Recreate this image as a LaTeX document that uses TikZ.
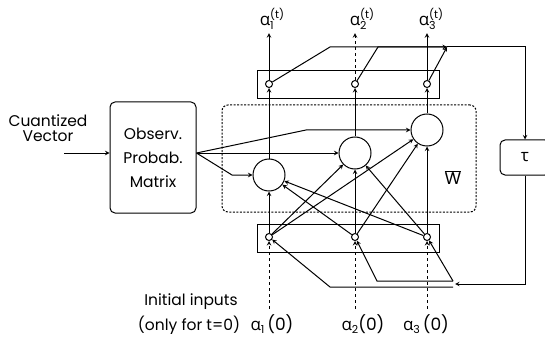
\documentclass[tikz,border=0pt]{standalone}
\usepackage{fontspec}
\setmainfont{Poppins}
\newfontfamily\grk{Open Sans}
\usetikzlibrary{positioning}

\newcommand{\scr}{\fontsize{11}{12}\selectfont}
% alpha with stacked index and time
\newcommand{\aout}[1]{{\grk α}\makebox[0pt][l]{\raisebox{-4pt}{\scr #1}}\raisebox{7pt}{\scr (t)}}
\newcommand{\ain}[1]{{\grk α}\raisebox{-3pt}{\scr #1}}

\tikzset{
  unit/.style={circle,draw,minimum size=7pt,inner sep=0pt},
  neuron/.style={circle,draw,minimum size=32pt,inner sep=0pt},
  layerbox/.style={draw,minimum width=182pt,minimum height=28pt},
  lbl/.style={inner sep=1pt,font=\fontsize{15.5}{18}\selectfont},
  albl/.style={inner sep=1pt,font=\fontsize{17}{19}\selectfont},
}

\begin{document}
\begin{tikzpicture}[x=1pt,y=-1pt,line width=1pt,>=stealth]
\useasboundingbox (0,0) rectangle (545,339);

% boxes
\node[draw,rounded corners=5pt,minimum width=86pt,minimum height=111pt,
  align=center,lbl,font=\fontsize{15.5}{24}\selectfont] (opm) at (153,157.5)
  {Observ.\\Probab.\\Matrix};
\node[draw,rounded corners=5pt,minimum width=50pt,minimum height=35pt,albl] (tau) at (525,157.5) {\grk τ};
\node[draw,dash pattern=on 2pt off 1.5pt,rounded corners=6pt,
  minimum width=254pt,minimum height=107pt] (wbox) at (349,158.5) {};
\node[layerbox] (outbox) at (348,84.5) {};
\node[layerbox] (inbox) at (348.5,238) {};

% units
\node[unit] (o1) at (269,84) {};
\node[unit] (o2) at (355,84) {};
\node[unit] (o3) at (427,84) {};
\node[neuron] (n1) at (269,175) {};
\node[neuron] (n2) at (355,153) {};
\node[neuron] (n3) at (427,130) {};
\node[unit] (i1) at (269,237) {};
\node[unit] (i2) at (355,237) {};
\node[unit] (i3) at (427,237) {};

% labels
\node[lbl,align=center] (cv) at (48,128) {Cuantized\\[-3pt]Vector};
\node[albl] (a1t) at (272,19) {\aout{1}};
\node[albl] (a2t) at (362,19) {\aout{2}};
\node[albl] (a3t) at (431,19) {\aout{3}};
\node[albl] (wl) at (453,178) {$\overline{\mbox{W}}$};
\node[lbl] (ini) at (191,302) {Initial inputs};
\node[lbl] (only) at (189,325) {(only for t=0)};
\node[albl] (a10) at (272,324) {\ain{1}\,(0)};
\node[albl] (a20) at (363,324) {\ain{2}(0)};
\node[albl] (a30) at (426,324) {\ain{3}\,(0)};

% input vector
\coordinate (cvin) at (64,153);
\coordinate (src) at (opm.east |- cvin);
\draw[->] (cvin) -- (cvin -| opm.west);
\draw[->] (src) -- (306,130) -- (n3.west);
\draw[->] (src) -- (n2.west);
\draw[->] (src) -- (232,175) -- (n1.west);

% recurrent weights
\foreach \i in {1,2,3}
  \foreach \j in {1,2,3}
    \draw[->] (i\i) -- (n\j);
\foreach \j in {1,2,3}
  \draw[->] (n\j) -- (o\j);

% outputs
\draw[->] (o1) -- ([yshift=-2pt]o1 |- a1t.south);
\draw[->,dashed] (o2) -- ([yshift=-2pt]o2 |- a2t.south);
\draw[->] (o3) -- ([yshift=-2pt]o3 |- a3t.south);

% initial inputs
\draw[->,dashed] ([yshift=4pt]i1 |- a10.north) -- (i1);
\draw[->,dashed] ([yshift=4pt]i2 |- a20.north) -- (i2);
\draw[->,dashed] ([yshift=4pt]i3 |- a30.north) -- (i3);

% delay loop
\coordinate (tj) at (447,47);
\coordinate (bj) at (455,284);
\draw[->] (o1) -- (330,47) -- (tj);
\draw (o2) -- (378,47) -- (tj);
\draw[->] (o3) -- (tj);
\draw[->] (tj) -- (525,47) -- (tau);
\draw[->] (tau) -- (525,284) -- (bj);
\draw[->] (453,281) -- (377,281) -- (i2);
\draw[->] (453,287) -- (330,287) -- (i1);
\draw[->] (453,281) -- (i3);
\end{tikzpicture}
\end{document}
